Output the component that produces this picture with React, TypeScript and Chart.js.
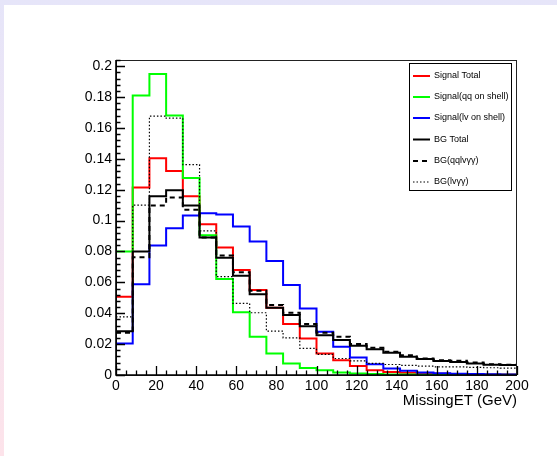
import React, { useEffect, useRef } from "react";
import { Chart, registerables } from "chart.js";

Chart.register(...registerables);

// ---- data ----
const X_MIN = 0;
const X_MAX = 200;
const Y_MAX = 0.204;

const xTickValues = [0, 20, 40, 60, 80, 100, 120, 140, 160, 180, 200];
const yTickValues = [0, 0.02, 0.04, 0.06, 0.08, 0.1, 0.12, 0.14, 0.16, 0.18, 0.2];
const X_MINOR_STEP = 5;
const Y_MINOR_STEP = 0.004;

const seriesNames = [
  "Signal Total",
  "Signal(qq on shell)",
  "Signal(lv on shell)",
  "BG Total",
  "BG(qqlv\u03b3\u03b3)",
  "BG(lv\u03b3\u03b3)",
];

const signalTotal = [0.0507, 0.1215, 0.1403, 0.1321, 0.1157, 0.0977, 0.0825, 0.068, 0.055, 0.0436, 0.033, 0.0237, 0.014, 0.0096, 0.0059, 0.0031, 0.002, 0.0014, 0.001, 0.0008, 0.0006, 0.0005, 0.0004, 0.0004];
const signalQQ = [0.08, 0.181, 0.195, 0.168, 0.1276, 0.0905, 0.0622, 0.0406, 0.0248, 0.014, 0.0075, 0.0046, 0.0031, 0.0016, 0.001, 0.0006, 0.0004, 0.0003, 0.0002, 0.0002, 0.0001, 0.0001, 0.0001, 0.0001];
const signalLV = [0.0204, 0.0588, 0.0838, 0.0951, 0.1033, 0.1048, 0.104, 0.0962, 0.0864, 0.0739, 0.0583, 0.0431, 0.028, 0.0183, 0.0114, 0.007, 0.0042, 0.0027, 0.0016, 0.0012, 0.0008, 0.0006, 0.0005, 0.0004];
const bgTotal = [0.0284, 0.08, 0.1157, 0.1196, 0.1098, 0.089, 0.076, 0.0642, 0.0523, 0.0436, 0.0388, 0.0315, 0.0258, 0.0226, 0.0189, 0.0166, 0.0144, 0.0118, 0.0103, 0.009, 0.0085, 0.0075, 0.0066, 0.0064];
const bgQQ = [0.0274, 0.0763, 0.1098, 0.115, 0.107, 0.089, 0.0774, 0.0665, 0.0546, 0.0453, 0.0403, 0.033, 0.0274, 0.0248, 0.02, 0.0176, 0.015, 0.0128, 0.0107, 0.0096, 0.0092, 0.0081, 0.007, 0.0066];
const bgLV = [0.0377, 0.11, 0.1676, 0.1663, 0.1362, 0.0934, 0.0637, 0.0464, 0.0403, 0.0284, 0.0241, 0.0172, 0.0133, 0.0107, 0.0092, 0.0075, 0.0068, 0.0062, 0.0057, 0.0053, 0.0053, 0.0049, 0.0047, 0.0045];

const FONT = "'Liberation Sans', Arial, Helvetica, sans-serif";

const styles = [
  { color: "#ff0000", width: 2, dash: [] as number[] },
  { color: "#00ff00", width: 2, dash: [] as number[] },
  { color: "#0000ff", width: 2, dash: [] as number[] },
  { color: "#000000", width: 2, dash: [] as number[] },
  { color: "#000000", width: 2, dash: [5, 4] },
  { color: "#000000", width: 1.2, dash: [1.5, 2] },
];

function toSteps(values: number[]) {
  const w = (X_MAX - X_MIN) / values.length;
  const pts = values.map((v, i) => ({ x: X_MIN + i * w, y: v }));
  pts.push({ x: X_MAX, y: values[values.length - 1] });
  return pts;
}

const framePlugin = {
  id: "rootFrame",
  afterDatasetsDraw(chart: any) {
    const { ctx, chartArea, scales } = chart;
    const { left, right, top, bottom } = chartArea;
    const x = scales.x;
    const y = scales.y;
    ctx.save();
    // frame
    ctx.setLineDash([]);
    ctx.strokeStyle = "#222";
    ctx.lineWidth = 1;
    ctx.strokeRect(left + 0.5, top + 0.5, right - left - 1, bottom - top);
    // axes
    ctx.strokeStyle = "#000";
    ctx.lineWidth = 1.6;
    ctx.beginPath();
    ctx.moveTo(left, top);
    ctx.lineTo(left, bottom);
    ctx.lineTo(right, bottom);
    ctx.stroke();
    // ticks
    ctx.lineWidth = 1.3;
    ctx.beginPath();
    for (let v = X_MIN; v <= X_MAX + 1e-9; v += X_MINOR_STEP) {
      const px = Math.round(x.getPixelForValue(v)) + 0.5;
      const major = xTickValues.some((t) => Math.abs(t - v) < 1e-9);
      ctx.moveTo(px, bottom);
      ctx.lineTo(px, bottom - (major ? 9 : 4.5));
    }
    for (let v = 0; v <= Y_MAX + 1e-9; v += Y_MINOR_STEP) {
      const py = Math.round(y.getPixelForValue(v)) + 0.5;
      const major = yTickValues.some((t) => Math.abs(t - v) < 1e-9);
      ctx.moveTo(left, py);
      ctx.lineTo(left + (major ? 9 : 4.5), py);
    }
    ctx.stroke();

    // x title
    ctx.fillStyle = "#000";
    ctx.font = `15px ${FONT}`;
    ctx.textAlign = "right";
    ctx.textBaseline = "middle";
    ctx.fillText("MissingET (GeV)", right, 401);

    // legend
    const lx0 = 409.5, ly0 = 63.5, lx1 = 511.5, ly1 = 190.5;
    ctx.fillStyle = "#fff";
    ctx.fillRect(lx0, ly0, lx1 - lx0, ly1 - ly0);
    ctx.strokeStyle = "#000";
    ctx.lineWidth = 1;
    ctx.strokeRect(lx0, ly0, lx1 - lx0, ly1 - ly0);
    const rowY = [76, 97, 118, 139.5, 161, 182];
    ctx.font = `9px ${FONT}`;
    ctx.textAlign = "left";
    seriesNames.forEach((name, i) => {
      const s = styles[i];
      ctx.strokeStyle = s.color;
      ctx.lineWidth = s.width;
      ctx.setLineDash(s.dash);
      ctx.beginPath();
      ctx.moveTo(413, rowY[i]);
      ctx.lineTo(430, rowY[i]);
      ctx.stroke();
      ctx.setLineDash([]);
      ctx.fillStyle = "#000";
      ctx.fillText(name, 434, rowY[i]);
    });
    ctx.restore();
  },
};

export default function App() {
  const ref = useRef<HTMLCanvasElement | null>(null);

  useEffect(() => {
    document.body.style.margin = "0";
    const all = [signalTotal, signalQQ, signalLV, bgTotal, bgQQ, bgLV];
    const chart = new Chart(ref.current as HTMLCanvasElement, {
      type: "line",
      data: {
        datasets: all.map((vals, i) => ({
          label: seriesNames[i],
          data: toSteps(vals),
          borderColor: styles[i].color,
          borderWidth: styles[i].width,
          borderDash: styles[i].dash,
          backgroundColor: "transparent",
          fill: false,
          stepped: "before" as const,
          pointRadius: 0,
          order: 10 - i,
        })),
      },
      options: {
        responsive: false,
        animation: false,
        layout: { padding: { left: 0, right: 40, top: 60, bottom: 0 } },
        plugins: { legend: { display: false }, tooltip: { enabled: false } },
        scales: {
          x: {
            type: "linear",
            min: X_MIN,
            max: X_MAX,
            afterBuildTicks: (s: any) => {
              s.ticks = xTickValues.map((v) => ({ value: v }));
            },
            afterFit: (s: any) => {
              s.height = 81;
            },
            grid: { display: false, drawTicks: false },
            border: { display: false },
            ticks: {
              color: "#000",
              font: { size: 14, family: FONT },
              padding: 3,
              maxRotation: 0,
              autoSkip: false,
            },
          },
          y: {
            type: "linear",
            min: 0,
            max: Y_MAX,
            afterBuildTicks: (s: any) => {
              s.ticks = yTickValues.map((v) => ({ value: v }));
            },
            afterFit: (s: any) => {
              s.width = 116;
            },
            grid: { display: false, drawTicks: false },
            border: { display: false },
            ticks: {
              color: "#000",
              font: { size: 14, family: FONT },
              padding: 4,
              autoSkip: false,
              callback: (v: any) => String(parseFloat(Number(v).toFixed(4))),
            },
          },
        },
      },
      plugins: [framePlugin],
    } as any);
    return () => chart.destroy();
  }, []);

  return (
    <div
      style={{
        position: "fixed",
        left: 0,
        top: 0,
        width: 557,
        height: 456,
        background: "linear-gradient(to bottom, #e6e5f9, #fde3ea)",
        overflow: "hidden",
      }}
    >
      <div style={{ position: "absolute", left: 4, top: 5, right: 0, bottom: 0, background: "#fff" }} />
      <canvas
        ref={ref}
        width={557}
        height={456}
        style={{ position: "absolute", left: 0, top: 0, width: 557, height: 456 }}
      />
    </div>
  );
}
